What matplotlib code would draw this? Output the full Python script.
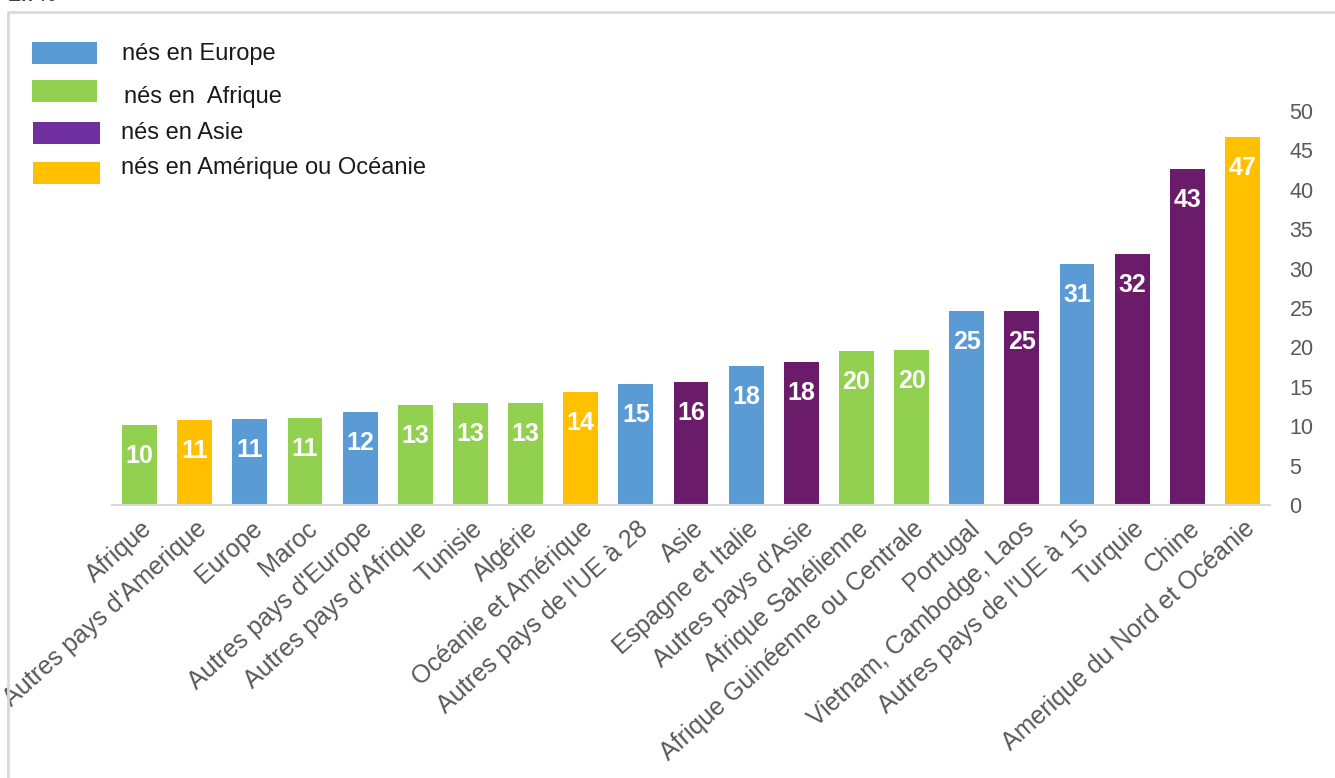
import matplotlib.pyplot as plt
from matplotlib.patches import Rectangle
from matplotlib.transforms import ScaledTranslation

plt.rcParams['font.family'] = ['Liberation Sans', 'DejaVu Sans']

# origin groups
groups = ["nés en Europe", "nés en  Afrique", "nés en Asie", "nés en Amérique ou Océanie"]
group_colors = {"europe": "#5B9BD5", "afrique": "#92D050", "asie": "#6A1B6A", "amerique": "#FFC000"}
legend_colors = ["#5B9BD5", "#92D050", "#7030A0", "#FFC000"]

countries = ["Afrique", "Autres pays d'Amerique", "Europe", "Maroc", "Autres pays d'Europe",
             "Autres pays d'Afrique", "Tunisie", "Algérie", "Océanie et Amérique",
             "Autres pays de l'UE à 28", "Asie", "Espagne et Italie", "Autres pays d'Asie",
             "Afrique Sahélienne", "Afrique Guinéenne ou Centrale", "Portugal",
             "Vietnam, Cambodge, Laos", "Autres pays de l'UE à 15", "Turquie", "Chine",
             "Amerique du Nord et Océanie"]
values = [10.2, 10.8, 10.9, 11.1, 11.8, 12.7, 12.9, 13.0, 14.3, 15.3, 15.6, 17.6, 18.1,
          19.6, 19.7, 24.6, 24.6, 30.6, 31.9, 42.6, 46.7]
origins = ["afrique", "amerique", "europe", "afrique", "europe", "afrique", "afrique",
           "afrique", "amerique", "europe", "asie", "europe", "asie", "afrique", "afrique",
           "europe", "asie", "europe", "asie", "asie", "amerique"]

W, H = 1335, 778
fig = plt.figure(figsize=(W / 100, H / 100), dpi=100)
ax = fig.add_axes([112 / W, 1 - 505 / H, (1270 - 112) / W, (505 - 111) / H])

x = range(len(countries))
bars = ax.bar(x, values, width=0.63, color=[group_colors[o] for o in origins])

for rect, val in zip(bars, values):
    ax.annotate("{:.0f}".format(val), xy=(rect.get_x() + rect.get_width() / 2, val),
                xytext=(0, -31), textcoords="offset pixels", ha="center", va="center",
                color="white", fontsize=18, fontweight="bold")

ax.set_xlim(-0.5, len(countries) - 0.5)
ax.set_ylim(0, 50)
ax.set_yticks(range(0, 51, 5))
ax.yaxis.tick_right()
ax.tick_params(axis="y", length=0, pad=14, labelsize=15.5, labelcolor="#595959")
ax.tick_params(axis="x", length=0, pad=6)

ax.set_xticks(list(x))
ax.set_xticklabels(countries, rotation=42, ha="right", va="center",
                   rotation_mode="anchor", fontsize=18, color="#595959")
shift = ScaledTranslation(9 / 100, -12 / 100, fig.dpi_scale_trans)
for lbl in ax.get_xticklabels():
    lbl.set_transform(lbl.get_transform() + shift)

for side in ["top", "right", "left"]:
    ax.spines[side].set_visible(False)
ax.spines["bottom"].set_color("#D9D9D9")
ax.spines["bottom"].set_linewidth(1.5)

# legend drawn in figure pixels
rect_rows = [(32, 42, 65), (32, 80, 65), (33, 122, 67), (33, 162, 67)]
text_rows = [(122, 54), (124, 97), (121, 133), (121, 168)]
for label, col, (rx, ry, rw), (tx, ty) in zip(groups, legend_colors, rect_rows, text_rows):
    fig.add_artist(Rectangle((rx / W, 1 - (ry + 22) / H), rw / W, 22 / H,
                             transform=fig.transFigure, facecolor=col, edgecolor="none"))
    fig.text(tx / W, 1 - ty / H, label, ha="left", va="center", fontsize=17, color="#1A1A1A")

# outer frame
fig.add_artist(plt.Line2D([8 / W, 8 / W, 1], [0, 1 - 12 / H, 1 - 12 / H],
                          transform=fig.transFigure, color="#D9D9D9", linewidth=2))
fig.text(8 / W, 1 - 5 / H, "En %", ha="left", va="bottom", fontsize=14,
         fontweight="bold", color="#404040")

fig.savefig("out.png", dpi=100)
